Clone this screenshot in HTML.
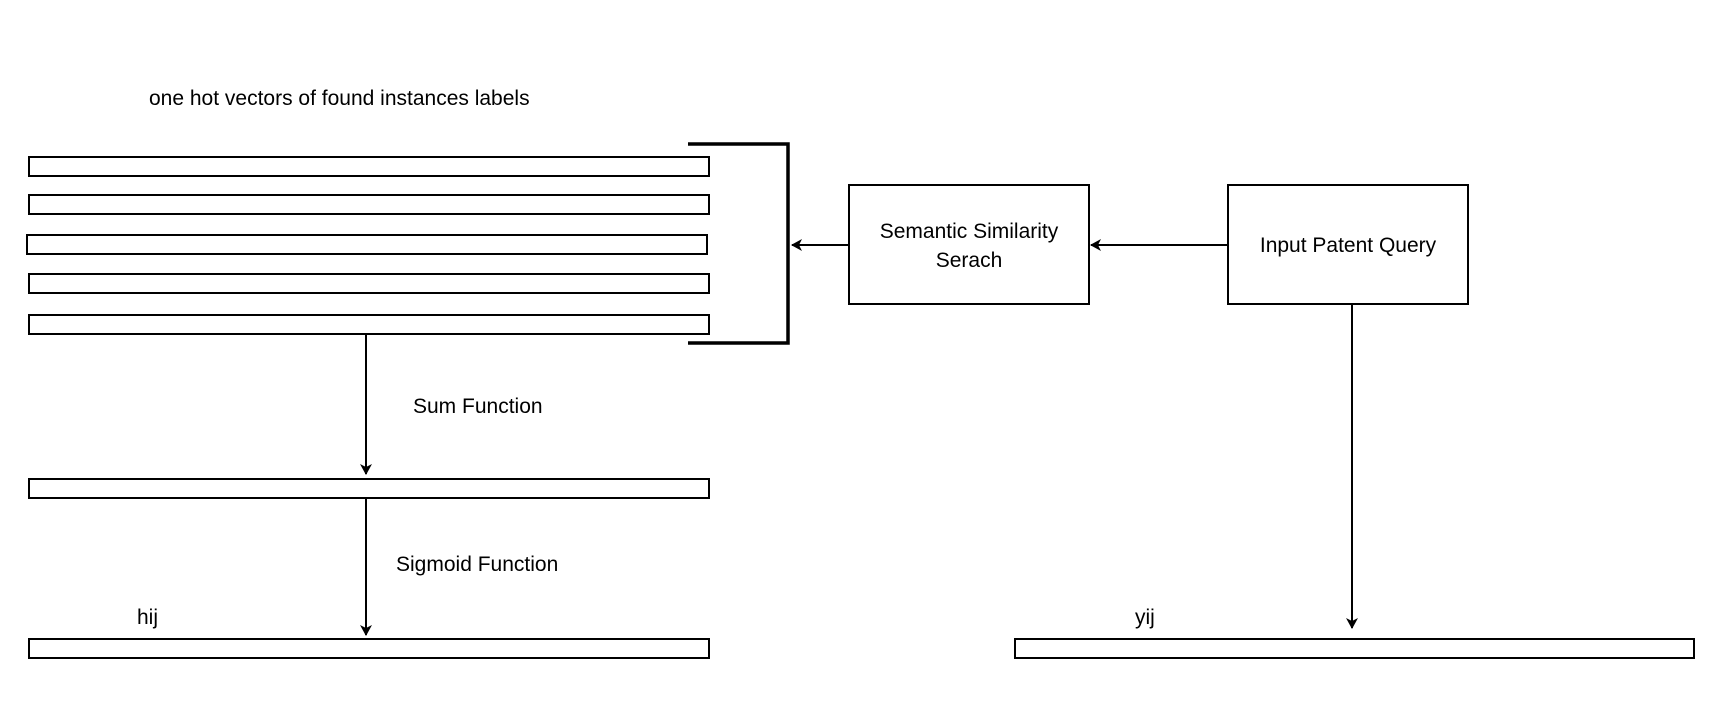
<!DOCTYPE html>
<html><head><style>body{margin:0;background:#fff}</style></head><body>
<svg width="1722" height="718" xmlns="http://www.w3.org/2000/svg" font-family="Liberation Sans, sans-serif" font-size="21" fill="none" stroke="#000">
<defs><marker id="a" markerWidth="12" markerHeight="12" refX="10" refY="6" orient="auto" markerUnits="userSpaceOnUse"><path d="M0,0 L11,6 L0,12 L3,6 z" fill="#000" stroke="none"/></marker></defs>
<g stroke-width="2">
<rect x="29" y="157" width="680" height="19"/>
<rect x="29" y="195" width="680" height="19"/>
<rect x="27" y="235" width="680" height="19"/>
<rect x="29" y="274" width="680" height="19"/>
<rect x="29" y="315" width="680" height="19"/>
<rect x="29" y="479" width="680" height="19"/>
<rect x="29" y="639" width="680" height="19"/>
<rect x="1015" y="639" width="679" height="19"/>
<rect x="849" y="185" width="240" height="119"/>
<rect x="1228" y="185" width="240" height="119"/>
<line x1="849" y1="245" x2="792" y2="245" marker-end="url(#a)"/>
<line x1="1228" y1="245" x2="1091" y2="245" marker-end="url(#a)"/>
<line x1="366" y1="334" x2="366" y2="474" marker-end="url(#a)"/>
<line x1="366" y1="498" x2="366" y2="635" marker-end="url(#a)"/>
<line x1="1352" y1="304" x2="1352" y2="628" marker-end="url(#a)"/>
</g>
<path d="M688,144 H788 V343 H688" stroke-width="3.5"/>
<g fill="#000" stroke="none">
<text x="149" y="105">one hot vectors of found instances labels</text>
<text x="969" y="238" text-anchor="middle">Semantic Similarity</text>
<text x="969" y="267" text-anchor="middle">Serach</text>
<text x="1348" y="252" text-anchor="middle">Input Patent Query</text>
<text x="413" y="413">Sum Function</text>
<text x="396" y="571">Sigmoid Function</text>
<text x="137" y="624">hij</text>
<text x="1135" y="624">yij</text>
</g>
</svg>
</body></html>
